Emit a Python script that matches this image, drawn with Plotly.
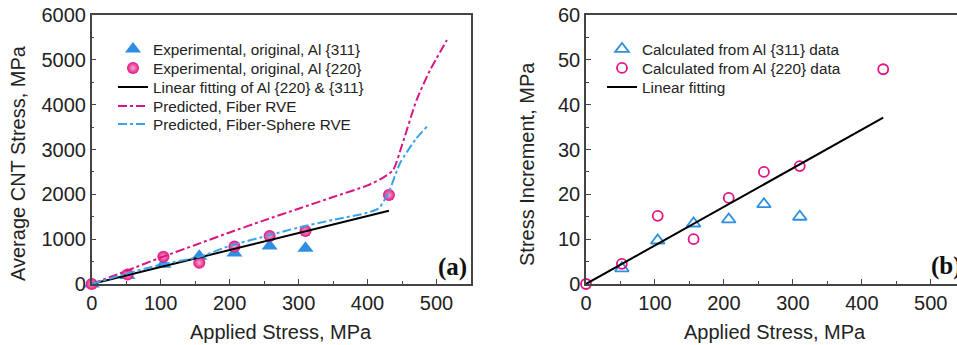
import plotly.graph_objects as go

# ---------------- data (panel a) ----------------
a_x311 = [0, 52, 104, 156, 207, 258, 310]
a_y311 = [0, 190, 440, 620, 690, 850, 800]
a_x220 = [0, 52, 104, 156, 207, 258, 310, 431]
a_y220 = [0, 210, 610, 475, 835, 1070, 1180, 1985]
a_fit_x = [0, 431]
a_fit_y = [0, 1635]
fiber_x = [0, 50, 100, 150, 200, 250, 300, 350, 400, 420, 437, 450, 471, 490, 515]
fiber_y = [0, 290, 590, 870, 1150, 1420, 1680, 1940, 2200, 2350, 2540, 3100, 4100, 4750, 5440]
fs_x = [0, 50, 100, 157, 200, 259, 300, 350, 400, 416, 430, 447, 469, 486]
fs_y = [0, 230, 430, 610, 850, 1093, 1260, 1430, 1590, 1688, 2023, 2692, 3212, 3509]

# ---------------- data (panel b) ----------------
b_x311 = [52, 104, 156, 207, 258, 310]
b_y311 = [3.5, 9.7, 13.5, 14.4, 17.8, 15.0]
b_x220 = [0, 52, 104, 156, 207, 258, 310, 431]
b_y220 = [0, 4.5, 15.2, 10.0, 19.2, 25.0, 26.3, 47.9]
b_fit_x = [0, 431]
b_fit_y = [0, 37.1]

x_ticks = [0, 100, 200, 300, 400, 500]
ya_ticks = [0, 1000, 2000, 3000, 4000, 5000, 6000]
yb_ticks = [0, 10, 20, 30, 40, 50, 60]

BLUE = '#2d8fe3'
MAG = '#e3137f'
LBLUE = '#3aa3ea'
FONT = 'Liberation Sans, Arial, sans-serif'
SERIF = 'Liberation Serif, Times New Roman, serif'

W, H = 957, 345
def px(x):
    return x / W
def py(y):
    return (H - y) / H

fig = go.Figure()

# panel a
fig.add_trace(go.Scatter(x=a_x311, y=a_y311, mode='markers', name='Experimental, original, Al {311}',
                         marker=dict(symbol='triangle-up', size=14, color=BLUE),
                         xaxis='x', yaxis='y', legend='legend', cliponaxis=False))
fig.add_trace(go.Scatter(x=a_x220, y=a_y220, mode='markers', name='Experimental, original, Al {220}',
                         marker=dict(symbol='circle', size=12, color=MAG,
                                     gradient=dict(type='radial', color='#f7a9cf'),
                                     line=dict(width=0)),
                         xaxis='x', yaxis='y', legend='legend2', cliponaxis=False))
fig.add_trace(go.Scatter(x=a_fit_x, y=a_fit_y, mode='lines', name='Linear fitting of Al {220} & {311}',
                         line=dict(color='black', width=2), xaxis='x', yaxis='y', legend='legend3'))
fig.add_trace(go.Scatter(x=fiber_x, y=fiber_y, mode='lines', name='Predicted, Fiber RVE',
                         line=dict(color='#d9157f', width=2, dash='dashdot', shape='spline', smoothing=0.6),
                         xaxis='x', yaxis='y', legend='legend4'))
fig.add_trace(go.Scatter(x=fs_x, y=fs_y, mode='lines', name='Predicted, Fiber-Sphere RVE',
                         line=dict(color=LBLUE, width=2, dash='dashdot', shape='spline', smoothing=0.6),
                         xaxis='x', yaxis='y', legend='legend5'))

# panel b
fig.add_trace(go.Scatter(x=b_x311, y=b_y311, mode='markers', name='Calculated from Al {311} data',
                         marker=dict(symbol='triangle-up-open', size=12, color=BLUE, line=dict(width=1.8)),
                         xaxis='x2', yaxis='y2', legend='legend6', cliponaxis=False))
fig.add_trace(go.Scatter(x=b_x220, y=b_y220, mode='markers', name='Calculated from Al {220} data',
                         marker=dict(symbol='circle-open', size=10, color=MAG, line=dict(width=1.8)),
                         xaxis='x2', yaxis='y2', legend='legend7', cliponaxis=False))
fig.add_trace(go.Scatter(x=b_fit_x, y=b_fit_y, mode='lines', name='Linear fitting',
                         line=dict(color='black', width=2), xaxis='x2', yaxis='y2', legend='legend8'))

axis_common = dict(showline=True, linecolor='#444', linewidth=1.5, ticks='inside', ticklen=5,
                   tickcolor='#444', tickwidth=1.2, showgrid=False, zeroline=False, automargin=False,
                   tickfont=dict(family=FONT, size=20, color='#222'))

def leg(xs, ys):
    return dict(x=px(xs), y=py(ys), xanchor='left', yanchor='middle', bgcolor='rgba(0,0,0,0)',
                font=dict(family=FONT, size=15.3, color='#222'), itemwidth=30)

rows = [49, 68, 87, 106, 124]
LXA = 113
LXB = 602

fig.update_layout(
    width=W, height=H, margin=dict(l=0, r=0, t=0, b=0, autoexpand=False),
    paper_bgcolor='white', plot_bgcolor='white',
    xaxis=dict(domain=[px(91.7), px(471)], range=[0, 550], tickvals=x_ticks, mirror=True,
               minor=dict(dtick=50, ticklen=3, ticks='inside', tickcolor='#444'),
               anchor='y', **axis_common),
    yaxis=dict(domain=[py(284), py(15)], range=[0, 6000], tickvals=ya_ticks, mirror=True,
               minor=dict(dtick=500, ticklen=3, ticks='inside', tickcolor='#444'),
               anchor='x', **axis_common),
    xaxis2=dict(domain=[px(586), 1.0], range=[0, 538], tickvals=x_ticks, mirror=True,
                minor=dict(dtick=50, ticklen=3, ticks='inside', tickcolor='#444'),
                anchor='y2', **axis_common),
    yaxis2=dict(domain=[py(284), py(15)], range=[0, 60], tickvals=yb_ticks, mirror=False,
                minor=dict(dtick=5, ticklen=3, ticks='inside', tickcolor='#444'),
                anchor='x2', **axis_common),
    legend=leg(LXA, rows[0]), legend2=leg(LXA, rows[1]), legend3=leg(LXA, rows[2]),
    legend4=leg(LXA, rows[3]), legend5=leg(LXA, rows[4]),
    legend6=leg(LXB, rows[0]), legend7=leg(LXB, rows[1]), legend8=leg(LXB, rows[2]),
    showlegend=True,
)

ann = []
def text(t, x, y, size=20, angle=0, family=FONT, xanchor='center', color='#222'):
    ann.append(dict(text=t, x=px(x), y=py(y), xref='paper', yref='paper', xanchor=xanchor,
                    yanchor='middle', showarrow=False, textangle=angle,
                    font=dict(family=family, size=size, color=color)))

text('Applied Stress, MPa', 281, 332)
text('Average CNT Stress, MPa', 18, 163, angle=-90)
text('Applied Stress, MPa', 775, 332)
text('Stress Increment, MPa', 527, 164, angle=-90)
text('<b>(a)</b>', 452, 267, size=25, family=SERIF, color='#111')
text('<b>(b)</b>', 929, 266, size=25, family=SERIF, xanchor='left', color='#111')
fig.update_layout(annotations=ann)

fig.write_html('out.html', config={'displayModeBar': False},
               post_script="document.body.style.margin='0px';document.body.style.overflow='hidden';")
